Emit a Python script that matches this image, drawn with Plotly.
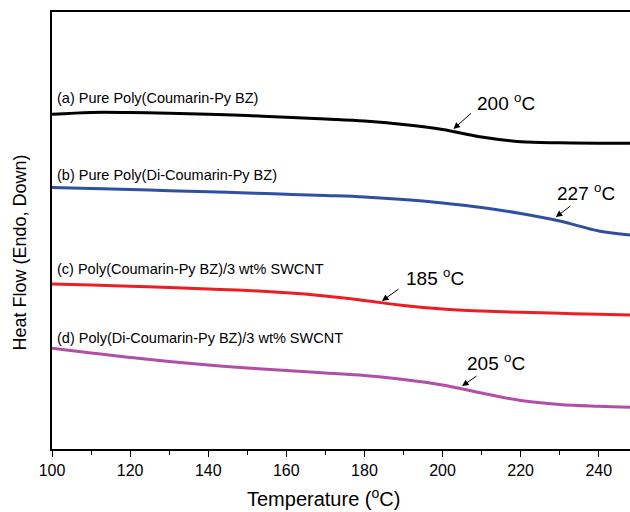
import plotly.graph_objects as go

# Temperature (°C) grid and heat flow readings (arbitrary units, offset curves)
temperature = [100, 110, 120, 130, 140, 150, 160, 170, 180, 190, 200, 210, 220, 230, 240, 248]
hf_a = [334.7, 336.6, 336.5, 335.8, 334.7, 333.4, 331.8, 330, 328, 324.5, 319.5, 312, 307.3, 306.2, 305.8, 305.7]
hf_b = [261.5, 260.5, 259.5, 258.3, 257.2, 256, 254.8, 253.5, 252, 249.5, 246, 241.5, 235.5, 228, 218, 214]
hf_c = [165, 164, 162.8, 161.5, 160, 158.5, 156.2, 153, 148.5, 143.5, 140, 138, 136.7, 135.7, 134.7, 134]
hf_d = [100.7, 96, 91.5, 87.5, 84, 81, 78.5, 76, 73.5, 69.5, 64, 56, 48.5, 44.5, 42.7, 41.7]

names = ["(a) Pure Poly(Coumarin-Py BZ)", "(b) Pure Poly(Di-Coumarin-Py BZ)",
         "(c) Poly(Coumarin-Py BZ)/3 wt% SWCNT", "(d) Poly(Di-Coumarin-Py BZ)/3 wt% SWCNT"]
colors = ["#000000", "#2E4FA3", "#EE1D24", "#B24DAA"]
label_y = [351, 274, 180, 111]

# Tg annotations: arrow tip (T, hf), arrow tail offset (px), text position (T, hf)
tg_text = ["200 <sup>o</sup>C", "227 <sup>o</sup>C", "185 <sup>o</sup>C", "205 <sup>o</sup>C"]
tg_tip_t = [202.8, 229.0, 184.5, 205.0]
tg_tip_y = [320, 232, 148, 63]
tg_ax = [19, 16, 18, 16]
tg_ay = [-17, -12, -13, -11]
tg_txt_t = [216.2, 236.7, 198.0, 213.7]
tg_txt_y = [347, 257, 172, 87]

xticks = [100, 120, 140, 160, 180, 200, 220, 240]

fig = go.Figure()
for h, c in zip([hf_a, hf_b, hf_c, hf_d], colors):
    fig.add_trace(go.Scatter(x=temperature, y=h, mode="lines",
                             line=dict(color=c, width=3, shape="spline", smoothing=1.0),
                             showlegend=False, hoverinfo="skip"))

ann = []
for n, ly in zip(names, label_y):
    ann.append(dict(x=100.8, y=ly, text=n, showarrow=False, xanchor="left", yanchor="middle",
                    font=dict(size=14.5, color="black")))
for txt, tx, ty, ax, ay, px, py in zip(tg_text, tg_tip_t, tg_tip_y, tg_ax, tg_ay, tg_txt_t, tg_txt_y):
    ann.append(dict(x=tx, y=ty, ax=ax, ay=ay, text="", showarrow=True, arrowhead=2, arrowsize=1.3,
                    arrowwidth=1, arrowcolor="black"))
    ann.append(dict(x=px, y=py, text=txt, showarrow=False, xanchor="center", yanchor="middle",
                    font=dict(size=19, color="black")))
ann.append(dict(x=0.47, y=-0.11, xref="paper", yref="paper", text="Temperature (<sup>o</sup>C)",
                showarrow=False, xanchor="center", yanchor="middle", font=dict(size=20, color="black")))
ann.append(dict(x=-0.055, y=0.45, xref="paper", yref="paper", text="Heat Flow (Endo, Down)", textangle=-90,
                showarrow=False, xanchor="center", yanchor="middle", font=dict(size=18, color="black")))

fig.update_layout(
    width=630, height=512,
    margin=dict(l=52, r=0, t=12, b=63),
    plot_bgcolor="white", paper_bgcolor="white",
    font=dict(family="Liberation Sans, Arial, sans-serif", color="black"),
    annotations=ann,
    xaxis=dict(range=[100, 248], tickvals=xticks, ticks="outside", ticklen=6, tickwidth=1.3,
               tickcolor="black", showline=True, linecolor="black", linewidth=1.5, mirror=True,
               showgrid=False, zeroline=False, tickfont=dict(size=16),
               minor=dict(dtick=10, tick0=100, ticks="outside", ticklen=4, tickwidth=1.3, tickcolor="black")),
    yaxis=dict(range=[0, 437], showticklabels=False, ticks="", showline=True, linecolor="black",
               linewidth=1.5, showgrid=False, zeroline=False),
)
fig.write_html("out.html")
